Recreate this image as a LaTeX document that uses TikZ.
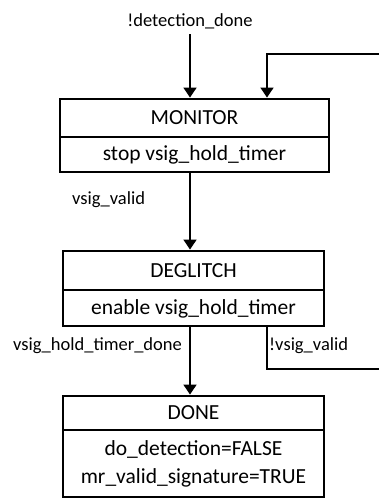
\documentclass[tikz,border=0pt]{standalone}
\usepackage{fontspec}
\setmainfont{Carlito}
\usetikzlibrary{arrows.meta}
\begin{document}
\begin{tikzpicture}[x=1pt,y=-1pt,
  statebox/.style={draw=black,line width=2.8pt,minimum width=#1,inner sep=0pt},
  divider/.style={line width=1.5pt},
  boxtext/.style={font=\fontsize{21.5}{24}\selectfont,inner sep=0pt,anchor=center},
  lbl/.style={font=\fontsize{18.5}{21}\selectfont,inner sep=0pt},
  conn/.style={line width=1.5pt,-{Triangle[width=13pt,length=10pt]}},
  plain/.style={line width=1.5pt}]
\useasboundingbox (0,0) rectangle (379,501);
% boxes
\node[statebox=269pt,minimum height=73pt] (monitor) at (194.5,135.5) {};
\node[statebox=261pt,minimum height=75pt] (deglitch) at (193.5,288.5) {};
\node[statebox=261pt,minimum height=101pt] (done) at (193.5,446.5) {};
% dividers
\draw[divider] (60,137) -- (329,137);
\draw[divider] (63,290) -- (324,290);
\draw[divider] (63,430) -- (324,430);
% box texts
\node[boxtext] (tmon) at (194.5,118) {MONITOR};
\node[boxtext] (tmon2) at (194.5,155) {stop vsig\_hold\_timer};
\node[boxtext] (tdeg) at (193.5,271) {DEGLITCH};
\node[boxtext] (tdeg2) at (193.5,308.5) {enable vsig\_hold\_timer};
\node[boxtext] (tdone) at (193.5,413) {DONE};
\node[boxtext] (tdone2) at (193.5,449) {do\_detection=FALSE};
\node[boxtext] (tdone3) at (193.5,478) {mr\_valid\_signature=TRUE};
% labels
\node[lbl,anchor=center] (ldet) at (190,21) {!detection\_done};
\node[lbl,anchor=west] (lvalid) at (72,200) {vsig\_valid};
\node[lbl,anchor=west] (lhold) at (13,346) {vsig\_hold\_timer\_done};
\node[lbl,anchor=west] (lnot) at (269,346) {!vsig\_valid};
% connectors
\coordinate (start) at (190,34);
\draw[conn] (start) -- (start |- monitor.north);
\coordinate (m1) at (190,172);
\draw[conn] (monitor.south -| m1) -- (m1 |- deglitch.north);
\draw[conn] (deglitch.south -| m1) -- (m1 |- done.north);
\coordinate (loopin) at (379,54);
\coordinate (loopx) at (267,54);
\draw[conn] (loopin) -- (loopx) -- (loopx |- monitor.north);
\coordinate (loopout) at (379,369);
\draw[plain] (loopx |- deglitch.south) -- (loopx |- loopout) -- (loopout);
\end{tikzpicture}
\end{document}
